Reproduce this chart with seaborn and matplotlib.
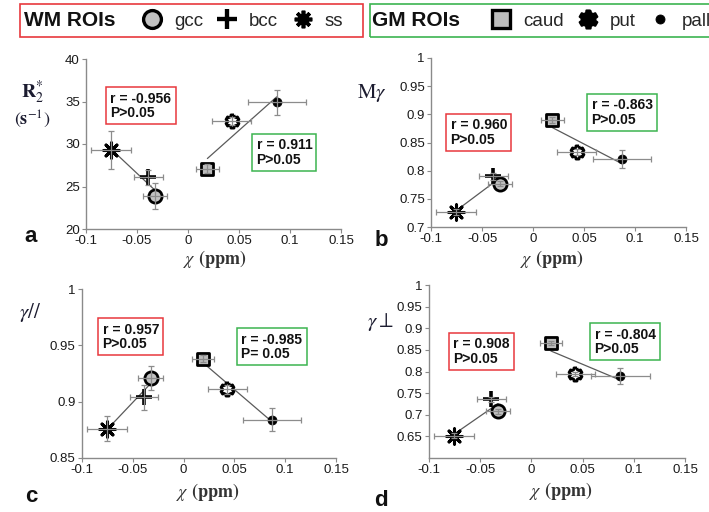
import numpy as np
import pandas as pd
import matplotlib
matplotlib.use("Agg")
import matplotlib.pyplot as plt
import seaborn as sns
from matplotlib.lines import Line2D
from matplotlib.patches import Rectangle

# ---------------- data ----------------
rois = ["gcc", "bcc", "ss", "caud", "put", "pall"]
groups = ["WM", "WM", "WM", "GM", "GM", "GM"]
chi = [-0.0325, -0.039, -0.0755, 0.019, 0.043, 0.087]
chi_err = [0.012, 0.014, 0.0195, 0.011, 0.019, 0.0285]

r2s = [23.9, 26.1, 29.3, 27.1, 32.7, 34.9]
r2s_err = [1.5, 0.9, 2.2, 0.5, 0.5, 1.45]
mgamma = [0.777, 0.790, 0.727, 0.890, 0.833, 0.820]
mgamma_err = [0.005, 0.006, 0.005, 0.005, 0.005, 0.016]
gpar = [0.921, 0.904, 0.876, 0.938, 0.911, 0.884]
gpar_err = [0.011, 0.011, 0.011, 0.003, 0.004, 0.010]
gperp = [0.708, 0.736, 0.652, 0.866, 0.795, 0.790]
gperp_err = [0.006, 0.006, 0.005, 0.005, 0.005, 0.018]

wm_stats = ["r = -0.956\nP>0.05", "r = 0.960\nP>0.05", "r = 0.957\nP>0.05", "r = 0.908\nP>0.05"]
gm_stats = ["r = 0.911\nP>0.05", "r = -0.863\nP>0.05", "r = -0.985\nP= 0.05", "r = -0.804\nP>0.05"]

x_ticks = [-0.1, -0.05, 0, 0.05, 0.1, 0.15]
x_ticklabels = ["-0.1", "-0.05", "0", "0.05", "0.1", "0.15"]
yticks_a = [20, 25, 30, 35, 40]
yticks_b = [0.7, 0.75, 0.8, 0.85, 0.9, 0.95, 1.0]
yticks_c = [0.85, 0.9, 0.95, 1.0]
yticks_d = [0.65, 0.7, 0.75, 0.8, 0.85, 0.9, 0.95, 1.0]
ylabels_b = ["0.7", "0.75", "0.8", "0.85", "0.9", "0.95", "1"]
ylabels_c = ["0.85", "0.9", "0.95", "1"]
ylabels_d = ["0.65", "0.7", "0.75", "0.8", "0.85", "0.9", "0.95", "1"]

# ---------------- style ----------------
sns.set_theme(style="ticks")
plt.rcParams["font.family"] = ["Liberation Sans", "DejaVu Sans"]
plt.rcParams["mathtext.fontset"] = "stix"

W, H = 709, 512
fig = plt.figure(figsize=(W / 100, H / 100), dpi=100)
fig.patch.set_facecolor("white")

def fx(px):
    return px / W

def fy(py):
    return 1 - py / H

# gear marker for putamen
ang = []
rad = []
for k in range(6):
    base = np.deg2rad(90 + 60 * k)
    for off, r in [(-13, 1.0), (13, 1.0), (20, 0.76), (40, 0.76)]:
        ang.append(base + np.deg2rad(off))
        rad.append(r)
ang = np.array(ang)
rad = np.array(rad)
gear = np.column_stack([rad * np.cos(ang), rad * np.sin(ang)])
gear = np.vstack([gear, gear[:1]])

styles = {
    "gcc": dict(marker="o", face="#c2c2c2", ms=9.5, mew=2.0, filled=True),
    "bcc": dict(marker="+", face="black", ms=11, mew=2.6, filled=False),
    "ss": dict(marker=(8, 2, 0), face="black", ms=11, mew=2.2, filled=False),
    "caud": dict(marker="s", face="#bdbdbd", ms=8.5, mew=2.0, filled=True),
    "put": dict(marker=gear, face="white", ms=9.5, mew=2.0, filled=True),
    "pall": dict(marker="o", face="black", ms=6.5, mew=0.5, filled=True),
}

RED = "#e8383d"
GREEN = "#3cb450"

panels = [
    dict(rect=(86, 59, 341, 229), y=r2s, yerr=r2s_err, yticks=yticks_a,
         ylabels=[str(v) for v in yticks_a], ylim=(20, 40),
         red=(0.078, 0.835), green=(0.651, 0.559)),
    dict(rect=(431, 58, 686, 227), y=mgamma, yerr=mgamma_err, yticks=yticks_b,
         ylabels=ylabels_b, ylim=(0.7, 1.0),
         red=(0.059, 0.669), green=(0.612, 0.787)),
    dict(rect=(82, 289, 336, 458), y=gpar, yerr=gpar_err, yticks=yticks_c,
         ylabels=ylabels_c, ylim=(0.85, 1.0),
         red=(0.063, 0.828), green=(0.61, 0.769)),
    dict(rect=(429, 285, 685, 458), y=gperp, yerr=gperp_err, yticks=yticks_d,
         ylabels=ylabels_d, ylim=(0.6, 1.0),
         red=(0.078, 0.723), green=(0.629, 0.78)),
]

for i, p in enumerate(panels):
    x0, y0, x1, y1 = p["rect"]
    ax = fig.add_axes([fx(x0), fy(y1), (x1 - x0) / W, (y1 - y0) / H])
    df = pd.DataFrame({"roi": rois, "group": groups, "chi": chi, "chi_err": chi_err,
                       "val": p["y"], "err": p["yerr"]})
    # regression lines
    for g in ["WM", "GM"]:
        sub = df[df["group"] == g]
        sns.regplot(data=sub, x="chi", y="val", ax=ax, scatter=False, ci=None,
                    truncate=True, line_kws=dict(color="#5a5a5a", lw=0.9, zorder=1))
    # markers
    for _, row in df.iterrows():
        st = styles[row["roi"]]
        kw = dict(marker=st["marker"], s=st["ms"] ** 2, linewidth=st["mew"],
                  color=st["face"], zorder=2.5, ax=ax, legend=False)
        if st["filled"]:
            kw["edgecolor"] = "black"
        sns.scatterplot(x=[row["chi"]], y=[row["val"]], **kw)
    # error bars
    ax.errorbar(df["chi"], df["val"], xerr=df["chi_err"], yerr=df["err"], fmt="none",
                ecolor="#8c8c8c", elinewidth=0.9, capsize=2.3, capthick=0.9, zorder=3)

    ax.set_xlim(-0.1, 0.15)
    ax.set_ylim(*p["ylim"])
    ax.set_xticks(x_ticks)
    ax.set_xticklabels(x_ticklabels)
    ax.set_yticks(p["yticks"])
    ax.set_yticklabels(p["ylabels"])
    ax.set_xlabel("")
    ax.set_ylabel("")
    ax.set_facecolor("white")
    sns.despine(ax=ax)
    for s in ["left", "bottom"]:
        ax.spines[s].set_color("#8a8a8a")
        ax.spines[s].set_linewidth(1.0)
    ax.tick_params(direction="out", length=3, width=0.8, color="#8a8a8a",
                   labelcolor="#1a1a1a", labelsize=9.5, pad=1.5)

    aw, ah = (x1 - x0), (y1 - y0)
    for (bx, by), txt, col in [(p["red"], wm_stats[i], RED), (p["green"], gm_stats[i], GREEN)]:
        ax.text(bx + 4.5 / aw, by - 4.5 / ah, txt, transform=ax.transAxes, ha="left", va="top",
                fontsize=10, fontweight="bold", color="#111111", linespacing=1.05, zorder=5,
                bbox=dict(boxstyle="square,pad=0.3", fc="white", ec=col, lw=1.1))

# axis labels
LAB = "#1c1c30"
fig.text(fx(32), fy(92), r"$\mathbf{R}_{2}^{*}$", ha="center", va="center", fontsize=14, color=LAB)
fig.text(fx(32), fy(119), r"$(\mathbf{s}^{-1})$", ha="center", va="center", fontsize=13, color=LAB)
fig.text(fx(372), fy(93), r"$\mathrm{M}\gamma$", ha="center", va="center", fontsize=15, color=LAB)
fig.text(fx(30), fy(313), r"$\gamma//$", ha="center", va="center", fontsize=15, color=LAB)
fig.text(fx(380), fy(322), r"$\gamma\perp$", ha="center", va="center", fontsize=15, color=LAB)

XL = r"$\chi$ $\mathbf{(ppm)}$"
for (cx, cy) in [(215, 259), (552, 259), (208, 492), (561, 491)]:
    fig.text(fx(cx), fy(cy), XL, ha="center", va="center", fontsize=13, color="#333333")

for lab, (cx, cy) in zip(["a", "b", "c", "d"], [(31, 237), (381, 240), (31, 497), (381, 501)]):
    fig.text(fx(cx), fy(cy), lab, ha="center", va="center", fontsize=16, fontweight="bold",
             color="#111111")

# top legends
fig.patches.append(Rectangle((fx(20), fy(37)), (363 - 20) / W, 33 / H, transform=fig.transFigure,
                             fill=False, ec=RED, lw=1.2))
fig.patches.append(Rectangle((fx(370), fy(37)), (715 - 370) / W, 33 / H, transform=fig.transFigure,
                             fill=False, ec=GREEN, lw=1.2))
fig.text(fx(24), fy(21), "WM ROIs", ha="left", va="center", fontsize=15, fontweight="bold",
         color="#111111")
fig.text(fx(372), fy(21), "GM ROIs", ha="left", va="center", fontsize=15, fontweight="bold",
         color="#111111")

def handle(roi, scale=1.35):
    st = styles[roi]
    if st["filled"]:
        return Line2D([], [], ls="none", marker=st["marker"], ms=st["ms"] * scale,
                      mfc=st["face"], mec="black", mew=st["mew"] * 1.2)
    return Line2D([], [], ls="none", marker=st["marker"], ms=st["ms"] * scale,
                  color="black", mew=st["mew"] * 1.2)

wm_h = [handle("gcc"), handle("bcc"), handle("ss", 1.15)]
gm_h = [handle("caud", 1.45), Line2D([], [], ls="none", marker=gear, ms=13, mfc="black",
                                     mec="black", mew=1.5), handle("pall", 1.0)]
leg_kw = dict(loc="center left", frameon=False, borderpad=0, borderaxespad=0, ncol=3,
              handlelength=1.0, handletextpad=0.65, columnspacing=0.8,
              prop={"family": ["Liberation Sans", "DejaVu Sans"], "size": 13.5})
fig.legend(wm_h, ["gcc", "bcc", "ss"], bbox_to_anchor=(fx(143), fy(21)), **leg_kw)
fig.legend(gm_h, ["caud", "put", "pall"], bbox_to_anchor=(fx(492), fy(21)), **leg_kw)

fig.savefig("out.png", dpi=100, facecolor="white")
